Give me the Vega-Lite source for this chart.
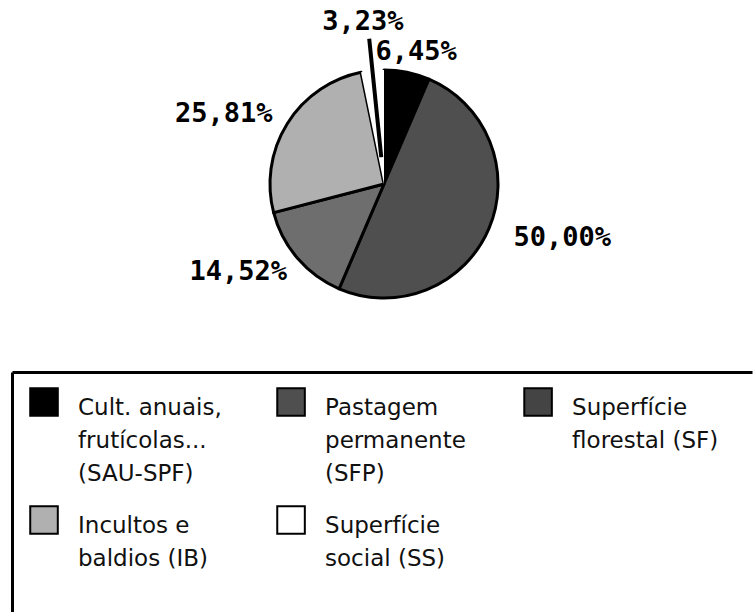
{
  "$schema": "https://vega.github.io/schema/vega-lite/v6.json",
  "padding": {"left": 12, "top": 0, "right": 0, "bottom": 0},
  "spacing": 4,
  "background": "white",
  "config": {"view": {"stroke": null}, "font": "DejaVu Sans"},
  "datasets": {
    "pie": [
      {"cat": "SAU-SPF", "value": 6.45, "ord": 1, "label": "6,45%"},
      {"cat": "SFP", "value": 50.00, "ord": 2, "label": "50,00%"},
      {"cat": "SF", "value": 14.52, "ord": 3, "label": "14,52%"},
      {"cat": "IB", "value": 25.81, "ord": 4, "label": "25,81%"},
      {"cat": "SS", "value": 3.23, "ord": 5, "label": "3,23%"}
    ],
    "leg": [
      {"cat": "SAU-SPF", "label": "Cult. anuais,\nfrutícolas...\n(SAU-SPF)", "col": 1, "row": 1},
      {"cat": "SFP", "label": "Pastagem\npermanente\n(SFP)", "col": 2, "row": 1},
      {"cat": "SF", "label": "Superfície\nflorestal  (SF)", "col": 3, "row": 1},
      {"cat": "IB", "label": "Incultos e\nbaldios (IB)", "col": 1, "row": 2},
      {"cat": "SS", "label": "Superfície\nsocial (SS)", "col": 2, "row": 2}
    ]
  },
  "vconcat": [
    {
      "width": 744,
      "height": 368,
      "data": {"name": "pie"},
      "layer": [
        {
          "mark": {"type": "arc", "radius": 114, "stroke": "black", "strokeWidth": 3, "strokeJoin": "round"},
          "encoding": {
            "theta": {"field": "value", "type": "quantitative", "stack": true},
            "order": {"field": "ord", "type": "quantitative"},
            "color": {"field": "cat", "type": "nominal", "legend": null,
              "scale": {"domain": ["SAU-SPF", "SFP", "SF", "IB", "SS"], "range": ["#000000", "#4f4f4f", "#6e6e6e", "#b0b0b0", "#ffffff"]}},
            "strokeOpacity": {"condition": {"test": "datum.cat === 'SS'", "value": 0}, "value": 1}
          }
        },
        {
          "mark": {"type": "arc", "radius": 146, "radius2": 27, "padAngle": 1.2, "fill": "black", "stroke": "black", "strokeWidth": 4, "strokeCap": "butt"},
          "encoding": {
            "theta": {"field": "value", "type": "quantitative", "stack": true},
            "order": {"field": "ord", "type": "quantitative"},
            "opacity": {"condition": {"test": "datum.cat === 'SS'", "value": 1}, "value": 0}
          }
        },
        {
          "transform": [
            {"stack": "value", "groupby": [], "sort": [{"field": "ord", "order": "ascending"}], "as": ["v0", "v1"]},
            {"fold": ["v0", "v1"], "as": ["edge", "v"]},
            {"aggregate": [{"op": "mean", "field": "v", "as": "mid"}], "groupby": ["cat", "label"]}
          ],
          "encoding": {
            "theta": {"field": "mid", "type": "quantitative", "stack": null},
            "text": {"field": "label", "type": "nominal"}
          },
          "layer": [
            {
              "transform": [{"filter": "datum.cat === 'SAU-SPF'"}],
              "mark": {"type": "text", "radius": 170, "dx": -2, "dy": 35, "font": "DejaVu Sans Mono", "fontWeight": "bold", "fontSize": 27, "align": "center", "baseline": "middle"}
            },
            {
              "transform": [{"filter": "datum.cat === 'SFP'"}],
              "mark": {"type": "text", "radius": 170, "dx": 22, "dy": -13, "font": "DejaVu Sans Mono", "fontWeight": "bold", "fontSize": 27, "align": "center", "baseline": "middle"}
            },
            {
              "transform": [{"filter": "datum.cat === 'SF'"}],
              "mark": {"type": "text", "radius": 150, "dx": -32, "dy": -10, "font": "DejaVu Sans Mono", "fontWeight": "bold", "fontSize": 27, "align": "center", "baseline": "middle"}
            },
            {
              "transform": [{"filter": "datum.cat === 'IB'"}],
              "mark": {"type": "text", "radius": 170, "dx": -16, "dy": 20, "font": "DejaVu Sans Mono", "fontWeight": "bold", "fontSize": 27, "align": "center", "baseline": "middle"}
            },
            {
              "transform": [{"filter": "datum.cat === 'SS'"}],
              "mark": {"type": "text", "radius": 170, "dx": -4, "dy": 7, "font": "DejaVu Sans Mono", "fontWeight": "bold", "fontSize": 27, "align": "center", "baseline": "middle"}
            }
          ]
        }
      ]
    },
    {
      "width": 740,
      "height": 240,
      "data": {"name": "leg"},
      "encoding": {
        "x": {"field": "col", "type": "quantitative",
          "scale": {"domain": [0.8704, 3.866], "nice": false, "zero": false},
          "axis": {"orient": "top", "domain": true, "domainColor": "black", "domainWidth": 3, "ticks": false, "labels": false, "grid": false, "title": null}},
        "y": {"field": "row", "type": "quantitative",
          "scale": {"domain": [0.7458, 2.7797], "range": [0, 240], "nice": false, "zero": false},
          "axis": {"orient": "left", "domain": true, "domainColor": "black", "domainWidth": 3, "ticks": false, "labels": false, "grid": false, "title": null}}
      },
      "layer": [
        {
          "mark": {"type": "square", "size": 760, "stroke": "black", "strokeWidth": 2, "opacity": 1},
          "encoding": {
            "fill": {"field": "cat", "type": "nominal", "legend": null,
              "scale": {"domain": ["SAU-SPF", "SFP", "SF", "IB", "SS"], "range": ["#000000", "#4f4f4f", "#444444", "#b0b0b0", "#ffffff"]}}
          }
        },
        {
          "mark": {"type": "text", "align": "left", "baseline": "alphabetic", "dx": 34, "dy": 13, "fontSize": 23, "font": "DejaVu Sans", "lineBreak": "\n", "lineHeight": 33, "color": "#111111"},
          "encoding": {"text": {"field": "label", "type": "nominal"}}
        }
      ]
    }
  ]
}
